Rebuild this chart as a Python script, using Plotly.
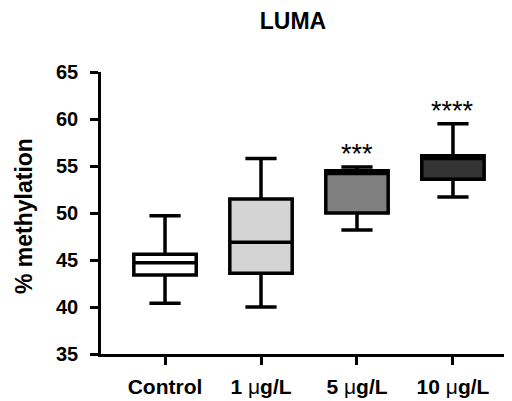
import plotly.graph_objects as go

categories = ["Control", "1 μg/L", "5 μg/L", "10 μg/L"]
tick_labels = ["<b>Control</b>", "<b>1 </b>μ<b>g/L</b>", "<b>5 </b>μ<b>g/L</b>", "<b>10 </b>μ<b>g/L</b>"]
lower_whisker = [40.4, 40.0, 48.2, 51.7]
q1_values = [43.4, 43.6, 50.0, 53.6]
median_values = [44.7, 46.9, 54.2, 55.8]
q3_values = [45.6, 51.5, 54.5, 56.1]
upper_whisker = [49.7, 55.8, 54.9, 59.5]
fill_colors = ["#ffffff", "#d4d4d4", "#808080", "#333333"]
significance = ["", "", "***", "****"]
sig_y = [None, None, 56.3, 60.8]

FONT = "Arial, Liberation Sans, sans-serif"

# The page body has an 8px default margin, so the figure is 8px smaller
# and all pixel positions below are expressed relative to the figure.
W, H = 504, 393
L, T, B = 93, 64, 47
PW, PH = W - L, H - T - B

fig = go.Figure()
for i, cat in enumerate(categories):
    fig.add_trace(go.Box(
        x=[cat],
        q1=[q1_values[i]], median=[median_values[i]], q3=[q3_values[i]],
        lowerfence=[lower_whisker[i]], upperfence=[upper_whisker[i]],
        fillcolor=fill_colors[i],
        line=dict(color="black", width=3.5),
        width=0.65,
        whiskerwidth=0.5,
        boxpoints=False,
        showlegend=False,
        hoverinfo="skip",
    ))

for i, cat in enumerate(categories):
    if significance[i]:
        fig.add_annotation(x=cat, y=sig_y[i], text=significance[i], showarrow=False,
                           font=dict(family=FONT, size=27, color="black"),
                           xanchor="center", yanchor="middle")

fig.add_annotation(text="<b>% methylation</b>", textangle=-90, showarrow=False,
                   xref="paper", yref="paper", x=(16 - L) / PW, y=(T + PH - 208) / PH,
                   xanchor="center", yanchor="middle",
                   font=dict(family=FONT, size=23, color="black"))

fig.update_layout(
    width=W, height=H,
    margin=dict(l=L, r=0, t=T, b=B, autoexpand=False),
    paper_bgcolor="white", plot_bgcolor="white",
    boxmode="overlay",
    title=dict(text="<b>LUMA</b>", x=285 / W, xanchor="center", y=1 - 13 / H, yanchor="middle",
               font=dict(family=FONT, size=23, color="black")),
    font=dict(family=FONT, color="black"),
)
fig.update_xaxes(
    type="category", categoryorder="array", categoryarray=categories,
    tickvals=categories, ticktext=tick_labels,
    range=[-0.667, 3.615], automargin=False,
    showline=True, linecolor="black", linewidth=2.7,
    ticks="outside", ticklen=8, tickwidth=2.7, tickcolor="black",
    tickfont=dict(family=FONT, size=21, color="black"),
    ticklabelstandoff=4,
    showgrid=False, zeroline=False,
)
fig.update_yaxes(
    range=[35, 65], tickvals=[35, 40, 45, 50, 55, 60, 65], automargin=False,
    showline=True, linecolor="black", linewidth=2.7,
    ticks="outside", ticklen=8, tickwidth=2.7, tickcolor="black",
    tickfont=dict(family=FONT, size=20, color="black", weight="bold"),
    ticklabelstandoff=8,
    showgrid=False, zeroline=False,
)
fig.write_html("out.html")
